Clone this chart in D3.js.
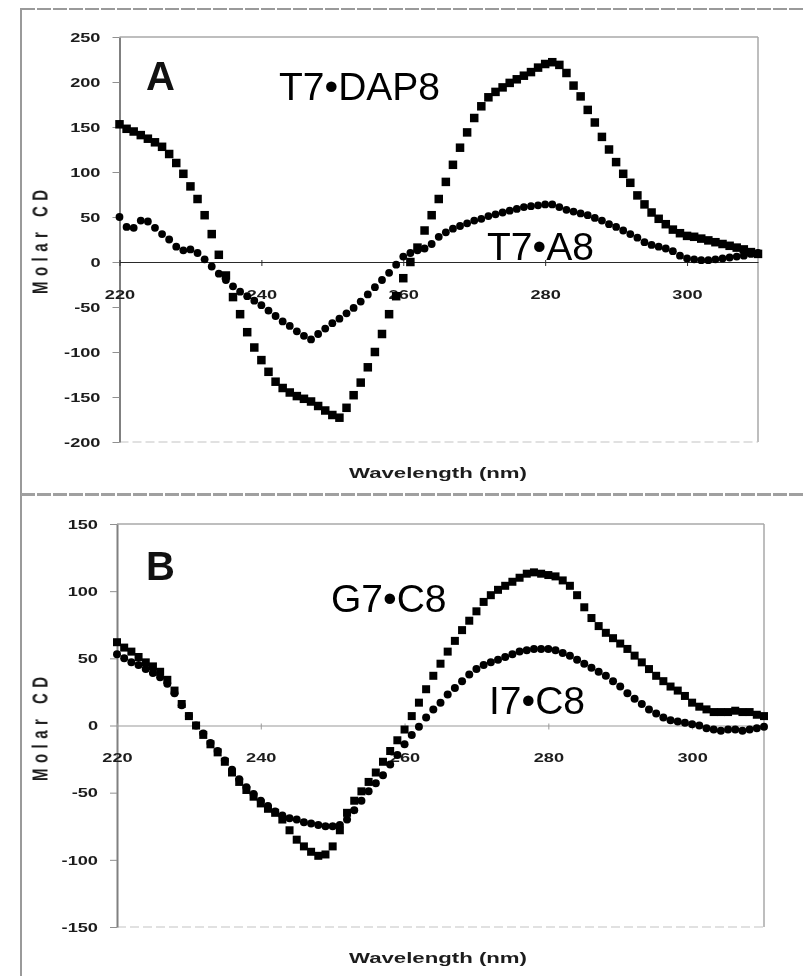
<!DOCTYPE html>
<html>
<head>
<meta charset="utf-8">
<script src="https://cdn.jsdelivr.net/npm/d3@7"></script>
<style>
  body { margin: 0; background: #fff; }
  svg { display: block; }
  text { font-family: "Liberation Sans", Arial, sans-serif; }
</style>
</head>
<body>
<div id="chart"></div>
<script>
// wavelength grid (nm), one reading per nm
const wavelengths = [
  220, 221, 222, 223, 224, 225, 226, 227, 228, 229,
  230, 231, 232, 233, 234, 235, 236, 237, 238, 239,
  240, 241, 242, 243, 244, 245, 246, 247, 248, 249,
  250, 251, 252, 253, 254, 255, 256, 257, 258, 259,
  260, 261, 262, 263, 264, 265, 266, 267, 268, 269,
  270, 271, 272, 273, 274, 275, 276, 277, 278, 279,
  280, 281, 282, 283, 284, 285, 286, 287, 288, 289,
  290, 291, 292, 293, 294, 295, 296, 297, 298, 299,
  300, 301, 302, 303, 304, 305, 306, 307, 308, 309, 310
];

// panel A
const t7dap8 = [
  153, 148, 145, 141, 137, 133, 128, 120, 110, 98,
  84, 70, 52, 31, 8, -15, -39, -58, -78, -95,
  -109, -122, -133, -140, -145, -149, -152, -155, -160, -165,
  -170, -173, -162, -148, -134, -117, -100, -80, -58, -38,
  -18, 0, 16, 35, 52, 70, 89, 108, 127, 144,
  160, 173, 183, 189, 194, 199, 203, 207, 211, 216,
  220, 222, 219, 210, 196, 184, 169, 155, 139, 125,
  111, 98, 88, 74, 64, 55, 48, 42, 36, 32,
  29, 28, 26, 24, 22, 20, 18, 16, 14, 11, 9
];
const t7a8 = [
  50, 39, 38, 46, 45, 38, 31, 25, 17, 13,
  14, 10, 3, -5, -13, -20, -27, -33, -38, -43,
  -48, -54, -60, -66, -71, -77, -82, -86, -80, -74,
  -68, -63, -57, -51, -44, -36, -28, -20, -12, -3,
  6, 10, 13, 15, 20, 28, 33, 37, 40, 43,
  46, 48, 51, 53, 55, 57, 59, 61, 62, 63,
  64, 64, 61, 58, 56, 54, 52, 49, 46, 42,
  39, 35, 31, 27, 22, 19, 17, 15, 12, 7,
  4, 3, 2, 2, 3, 4, 5, 6, 7, 9, 10
];

// panel B
const g7c8 = [
  62, 58, 55, 51, 47, 44, 40, 34, 26, 16,
  7, 0, -7, -14, -20, -27, -35, -42, -48, -53,
  -58, -62, -65, -70, -78, -85, -90, -94, -97, -96,
  -90, -78, -65, -56, -49, -42, -35, -27, -19, -11,
  -3, 7, 17, 27, 37, 46, 55, 63, 71, 78,
  85, 92, 97, 101, 104, 107, 110, 113, 114, 113,
  112, 111, 108, 104, 97, 88, 80, 74, 69, 65,
  61, 57, 52, 47, 42, 37, 33, 29, 26, 22,
  17, 14, 12, 10, 10, 10, 11, 10, 10, 8, 7
];
const i7c8 = [
  53, 50, 47, 45, 42, 39, 36, 31, 24, 15,
  7, 0, -6, -13, -19, -26, -33, -40, -46, -51,
  -56, -60, -64, -67, -69, -70, -72, -73, -74, -75,
  -75, -74, -70, -63, -56, -49, -43, -37, -29, -22,
  -14, -7, -1, 6, 12, 17, 23, 28, 33, 38,
  42, 45, 47, 49, 51, 53, 55, 56, 57, 57,
  57, 56, 54, 52, 49, 46, 43, 40, 37, 33,
  29, 24, 20, 16, 12, 9, 6, 4, 3, 2,
  1, 0, -2, -3, -4, -3, -3, -4, -3, -2, -1
];

const xTicks = [220, 240, 260, 280, 300];
const yTicksA = [-200, -150, -100, -50, 0, 50, 100, 150, 200, 250];
const yTicksB = [-150, -100, -50, 0, 50, 100, 150];

const width = 805;
const height = 976;

const svg = d3.select("#chart")
  .append("svg")
  .attr("width", width)
  .attr("height", height);

svg.append("rect").attr("width", width).attr("height", height).attr("fill", "#fff");

// the scan is soft, a little blur on the excel parts
svg.append("defs").append("filter")
  .attr("id", "soft")
  .append("feGaussianBlur").attr("stdDeviation", 0.55);

// outer frame of the figure
svg.append("line")
  .attr("x1", 21).attr("x2", width).attr("y1", 9).attr("y2", 9)
  .attr("stroke", "#9a9a9a").attr("stroke-width", 2).attr("stroke-dasharray", "14,2");
svg.append("line")
  .attr("x1", 21).attr("x2", 21).attr("y1", 8).attr("y2", height)
  .attr("stroke", "#9a9a9a").attr("stroke-width", 2);
svg.append("line")
  .attr("x1", 21).attr("x2", width).attr("y1", 494.5).attr("y2", 494.5)
  .attr("stroke", "#a0a0a0").attr("stroke-width", 3).attr("stroke-dasharray", "14,2");

// excel labels come out stretched sideways in the scan
function stretch(sel, f) {
  sel.each(function() {
    const w = this.getComputedTextLength();
    d3.select(this).attr("textLength", w * f).attr("lengthAdjust", "spacingAndGlyphs");
  });
}

function drawPanel(p) {
  const x = d3.scaleLinear().domain([220, 310]).range([p.left, p.right]);
  const y = d3.scaleLinear().domain(p.yDomain).range([p.bottom, p.top]);
  const g = svg.append("g").attr("filter", "url(#soft)");

  // plot area border
  g.append("line")
    .attr("x1", p.left).attr("x2", p.right).attr("y1", p.top).attr("y2", p.top)
    .attr("stroke", "#a8a8a8").attr("stroke-width", 1.5);
  g.append("line")
    .attr("x1", p.right).attr("x2", p.right).attr("y1", p.top).attr("y2", p.bottom)
    .attr("stroke", "#a8a8a8").attr("stroke-width", 1.5);
  g.append("line")
    .attr("x1", p.left).attr("x2", p.right).attr("y1", p.bottom).attr("y2", p.bottom)
    .attr("stroke", "#c4c4c4").attr("stroke-width", 1.2).attr("stroke-dasharray", "9,4");

  // y axis
  const yAxis = g.append("g")
    .attr("transform", `translate(${p.left},0)`)
    .call(d3.axisLeft(y).tickValues(p.yTicks).tickSize(7).tickSizeOuter(0).tickPadding(12)
      .tickFormat(d => String(d)));
  yAxis.select(".domain").attr("stroke", "#808080").attr("stroke-width", 2);
  yAxis.selectAll(".tick line").attr("stroke", "#909090");
  yAxis.selectAll(".tick text")
    .attr("font-size", 13).attr("font-weight", "bold").attr("fill", "#1e1e1e")
    .attr("font-family", "'Liberation Sans', Arial, sans-serif")
    .call(stretch, 1.4);

  // zero line with wavelength ticks
  const xAxis = g.append("g")
    .attr("transform", `translate(0,${y(0)})`)
    .call(d3.axisBottom(x).tickValues(xTicks).tickSize(4).tickSizeOuter(0));
  xAxis.select(".domain").attr("stroke", p.zeroColor).attr("stroke-width", 1.2);
  xAxis.selectAll(".tick line").attr("stroke", p.zeroColor).attr("y1", -2);
  xAxis.selectAll(".tick text")
    .attr("y", 32).attr("dy", "0.35em")
    .attr("font-size", 13).attr("font-weight", "bold").attr("fill", "#1e1e1e")
    .attr("font-family", "'Liberation Sans', Arial, sans-serif")
    .call(stretch, 1.4);

  // axis titles
  g.append("text")
    .attr("x", 438).attr("y", p.xTitleY).attr("dy", "0.35em")
    .attr("text-anchor", "middle")
    .attr("font-size", 14).attr("font-weight", "bold").attr("fill", "#1e1e1e")
    .attr("textLength", 178).attr("lengthAdjust", "spacingAndGlyphs")
    .text("Wavelength (nm)");
  g.append("text")
    .attr("transform", `translate(40,${p.yTitleY}) rotate(-90) scale(1,1.45)`)
    .attr("dy", "0.35em")
    .attr("text-anchor", "middle")
    .attr("font-size", 15).attr("font-weight", "bold").attr("fill", "#1e1e1e")
    .attr("textLength", 104).attr("lengthAdjust", "spacing")
    .text("Molar CD");

  // circles series first, squares on top
  g.append("g").selectAll("circle")
    .data(wavelengths.map((w, i) => ({ w, v: p.circles[i] })))
    .join("circle")
    .attr("cx", d => x(d.w))
    .attr("cy", d => y(d.v))
    .attr("r", p.circleR)
    .attr("fill", "#000");

  g.append("g").selectAll("rect")
    .data(wavelengths.map((w, i) => ({ w, v: p.squares[i] })))
    .join("rect")
    .attr("x", d => x(d.w) - p.sq / 2)
    .attr("y", d => y(d.v) - p.sq / 2)
    .attr("width", p.sq)
    .attr("height", p.sq)
    .attr("fill", "#000");

  // panel letter and series names (these are crisp in the scan)
  svg.append("text")
    .attr("x", p.letterX).attr("y", p.letterY)
    .attr("font-size", 40).attr("font-weight", "bold").attr("fill", "#111")
    .text(p.letter);
  p.names.forEach(n => {
    svg.append("text")
      .attr("x", n.x).attr("y", n.y)
      .attr("font-size", 39).attr("fill", "#000")
      .text(n.text);
  });
}

drawPanel({
  left: 119.5, right: 758, top: 37, bottom: 442,
  yDomain: [-200, 250], yTicks: yTicksA,
  zeroColor: "#2a2a2a",
  xTitleY: 473, yTitleY: 242,
  squares: t7dap8, circles: t7a8, sq: 8.5, circleR: 3.9,
  letter: "A", letterX: 146, letterY: 90,
  names: [
    { text: "T7•DAP8", x: 279, y: 100 },
    { text: "T7•A8", x: 487, y: 260 }
  ]
});

drawPanel({
  left: 117, right: 764, top: 524, bottom: 927,
  yDomain: [-150, 150], yTicks: yTicksB,
  zeroColor: "#9a9a9a",
  xTitleY: 958, yTitleY: 729,
  squares: g7c8, circles: i7c8, sq: 8, circleR: 4,
  letter: "B", letterX: 146, letterY: 580,
  names: [
    { text: "G7•C8", x: 331, y: 612 },
    { text: "I7•C8", x: 489, y: 714 }
  ]
});
</script>
</body>
</html>
